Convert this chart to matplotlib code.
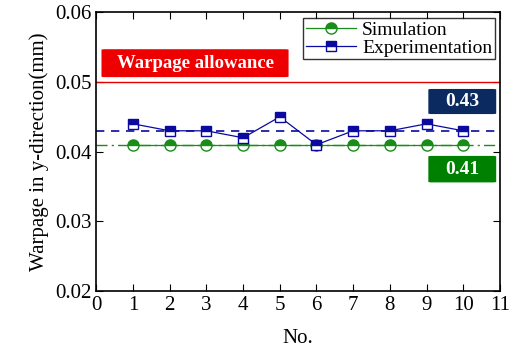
import matplotlib.pyplot as plt
from matplotlib.patches import FancyBboxPatch

plt.rcParams['font.family'] = ['Liberation Serif', 'DejaVu Serif']

no = [1, 2, 3, 4, 5, 6, 7, 8, 9, 10]
simulation = [0.041, 0.041, 0.041, 0.041, 0.041, 0.041, 0.041, 0.041, 0.041, 0.041]
experimentation = [0.044, 0.043, 0.043, 0.042, 0.045, 0.041, 0.043, 0.043, 0.044, 0.043]
sim_mean = 0.041
exp_mean = 0.043
allowance = 0.05
xticks = [0, 1, 2, 3, 4, 5, 6, 7, 8, 9, 10, 11]
yticks = [0.02, 0.03, 0.04, 0.05, 0.06]

green = '#1a8c1a'
blue = '#0a0aa0'

fig = plt.figure(figsize=(5.18, 3.5), dpi=100)
ax = fig.add_axes([0.186, 0.168, 0.779, 0.797])

ax.axhline(allowance, color='#e00000', lw=1.0)
ax.axhline(exp_mean, color=blue, lw=1.2, ls=(0, (5, 4)))
ax.axhline(sim_mean, color=green, lw=1.0, ls=(0, (8, 3, 1.5, 3)))

ax.plot(no, simulation, color=green, lw=0.9, marker='o', ms=8,
        mfc=green, mec=green, mfcalt='white', fillstyle='top',
        markeredgewidth=1.0, label='Simulation')
ax.plot(no, experimentation, color=blue, lw=0.9, marker='s', ms=7.5,
        mfc=blue, mec=blue, mfcalt='white', fillstyle='top',
        markeredgewidth=1.0, label='Experimentation')

ax.set_xlim(0, 11)
ax.set_ylim(0.02, 0.06)
ax.set_xticks(xticks)
ax.set_yticks(yticks)
ax.set_yticklabels(['0.02', '0.03', '0.04', '0.05', '0.06'])
ax.tick_params(direction='in', top=True, right=True, labelsize=15, length=5)
for s in ax.spines.values():
    s.set_linewidth(1.2)

ax.set_xlabel('No.', fontsize=15, labelpad=10)
ax.set_ylabel('Warpage in y-direction(mm)', fontsize=15, labelpad=4)

leg = ax.legend(loc='upper right', fontsize=14, frameon=True, fancybox=False,
                edgecolor='black', handlelength=2.6, borderpad=0.15,
                labelspacing=0.0, handletextpad=0.3, borderaxespad=0.0,
                bbox_to_anchor=(0.988, 0.978))
leg.get_frame().set_linewidth(1.0)

def tag(x0, y0, w, h, text, color, fs):
    box = FancyBboxPatch((x0, y0), w, h, boxstyle='round,pad=0,rounding_size=0.1',
                         transform=ax.transData, facecolor=color, edgecolor='none',
                         mutation_aspect=0.0008)
    ax.add_patch(box)
    ax.text(x0 + w / 2, y0 + h / 2, text, color='white', fontsize=fs,
            fontweight='bold', ha='center', va='center')

tag(0.14, 0.0507, 5.1, 0.0040, 'Warpage allowance', '#ee0000', 13.5)
tag(9.05, 0.0454, 1.85, 0.0036, '0.43', '#0b2a5f', 14)
tag(9.05, 0.0356, 1.85, 0.0038, '0.41', '#008000', 14)

plt.savefig('out.png', dpi=100)
